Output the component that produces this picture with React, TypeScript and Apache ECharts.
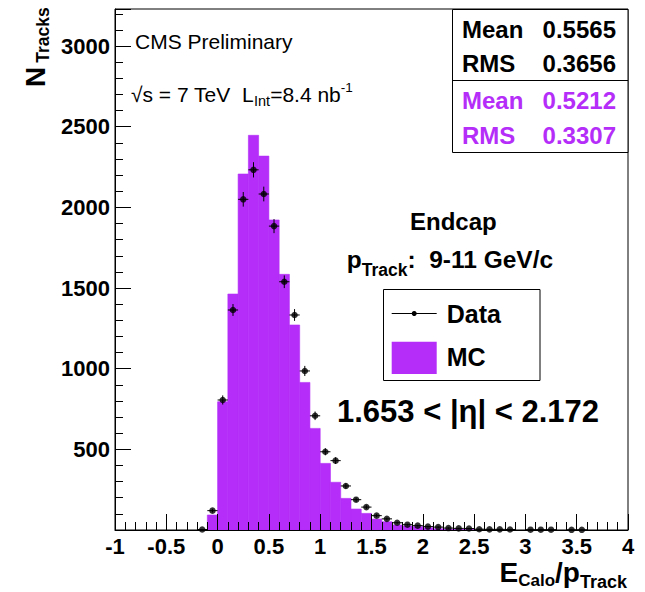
import React, { useEffect, useRef } from 'react';
import * as echarts from 'echarts';

// ---- data ----
const binWidth = 0.1;
const mcBinStart = -0.1;
const mcCounts = [93, 795, 1463, 2207, 2447, 2318, 1922, 1585, 1271, 915, 630, 413, 296, 196, 130, 103, 68, 51, 31, 25, 21, 14, 8, 4, 2, 1];
const dataCenters = [-0.15, -0.05, 0.05, 0.15, 0.25, 0.35, 0.45, 0.55, 0.65, 0.75, 0.85, 0.95, 1.05, 1.15, 1.25, 1.35, 1.45, 1.55, 1.65, 1.75, 1.85, 1.95, 2.05, 2.15, 2.25, 2.35, 2.45, 2.55, 2.65, 2.75, 2.85, 3.05, 3.15, 3.25, 3.45, 3.55];
const dataCounts = [3, 120, 806, 1364, 2050, 2233, 2083, 1884, 1539, 1333, 986, 708, 485, 430, 273, 188, 142, 89, 69, 45, 33, 27, 21, 18, 12, 10, 9, 5, 4, 4, 3, 2, 2, 2, 1, 1];
const xTicks = [-1, -0.5, 0, 0.5, 1, 1.5, 2, 2.5, 3, 3.5, 4];
const yTickLabels = [500, 1000, 1500, 2000, 2500, 3000];
const statsDataRows = [['Mean', '0.5565'], ['RMS', '0.3656']];
const statsMCRows = [['Mean', '0.5212'], ['RMS', '0.3307']];
const xMin = -1, xMax = 4, yMin = 0, yMax = 3230;

const MC_COLOR = '#b42df8';
const FONT = '"Liberation Sans", Arial, Helvetica, sans-serif';

let _ctx: CanvasRenderingContext2D | null = null;
function measure(text: string, size: number, weight: string) {
  if (!_ctx) _ctx = document.createElement('canvas').getContext('2d');
  _ctx!.font = `${weight} ${size}px ${FONT}`;
  return _ctx!.measureText(text).width;
}
function textEl(text: string, x: number, y: number, size: number, weight: string, color: string, align = 'left', lh?: number) {
  return {
    type: 'text', x, y, z: 20,
    style: { text, fill: color, font: `${weight} ${size}px ${FONT}`, lineHeight: lh ?? size, textAlign: align, textVerticalAlign: 'middle', align, verticalAlign: 'middle' },
  };
}
type Part = [string, number, string, number];
function chain(x0: number, y: number, parts: Part[], color = '#000', lhScale = 1) {
  let x = x0;
  const out: any[] = [];
  for (const [t, size, weight, dy] of parts) {
    out.push(textEl(t, x, y + dy, size, weight, color, 'left', size * lhScale));
    x += measure(t, size, weight);
  }
  return out;
}
function chainRight(xr: number, y: number, parts: Part[], color = '#000', lhScale = 1) {
  const total = parts.reduce((s, [t, size, w]) => s + measure(t, size, w), 0);
  return chain(xr - total, y, parts, color, lhScale);
}

export default function App() {
  const ref = useRef<HTMLDivElement>(null);
  useEffect(() => {
    const chart = echarts.init(ref.current!, null, { renderer: 'svg' });

    const mcData = mcCounts.map((v, i) => [mcBinStart + i * binWidth, v]);
    const pts = dataCenters.map((c, i) => [c, dataCounts[i]]);

    const statsEls: any[] = [];
    const rowsY = [29, 63.5, 100, 135];
    [...statsDataRows, ...statsMCRows].forEach((r, i) => {
      const col = i < 2 ? '#000' : MC_COLOR;
      statsEls.push(textEl(r[0], 462, rowsY[i], 24, 'bold', col));
      statsEls.push(textEl(r[1], 616, rowsY[i], 24, 'bold', col, 'right'));
    });

    const nW = measure('N', 28, 'bold');

    const option: any = {
      animation: false,
      backgroundColor: '#fff',
      grid: { left: 115, right: 17, top: 9, bottom: 62, show: true, borderColor: '#000', borderWidth: 1, backgroundColor: 'transparent' },
      xAxis: {
        type: 'value', min: xMin, max: xMax, interval: 0.5, z: 5,
        axisLine: { show: true, onZero: false, lineStyle: { color: '#000', width: 1 } },
        axisTick: { show: true, inside: true, length: 16, lineStyle: { color: '#000', width: 1 } },
        minorTick: { show: true, splitNumber: 5, length: 8, lineStyle: { color: '#000', width: 1 } },
        splitLine: { show: false },
        axisLabel: {
          color: '#000', fontSize: 22, fontWeight: 'bold', fontFamily: FONT, margin: 6, lineHeight: 20,
          formatter: (v: number) => {
            const t = xTicks.find((k) => Math.abs(k - v) < 1e-6);
            return t === undefined ? '' : String(t);
          },
        },
      },
      yAxis: [
        {
          type: 'value', min: yMin, max: yMax, interval: 500, z: 5, position: 'left',
          axisLine: { show: true, onZero: false, lineStyle: { color: '#000', width: 1 } },
          axisTick: { show: true, inside: true, length: 16, lineStyle: { color: '#000', width: 1 } },
          splitLine: { show: false },
          axisLabel: {
            color: '#000', fontSize: 22, fontWeight: 'bold', fontFamily: FONT, margin: 5,
            formatter: (v: number) => (yTickLabels.indexOf(Math.round(v)) >= 0 ? String(Math.round(v)) : ''),
          },
        },
        {
          type: 'value', min: yMin, max: yMax, interval: 100, z: 5, position: 'left',
          axisLine: { show: false, onZero: false },
          axisTick: { show: true, inside: true, length: 8, lineStyle: { color: '#000', width: 1 } },
          splitLine: { show: false },
          axisLabel: { show: false },
        },
      ],
      series: [
        {
          type: 'custom', name: 'MC', z: 2, yAxisIndex: 0,
          data: mcData,
          encode: { x: 0, y: 1 },
          renderItem: (params: any, api: any) => {
            const x0 = api.value(0);
            const v = api.value(1);
            const p0 = api.coord([x0, 0]);
            const p1 = api.coord([x0 + binWidth, v]);
            return {
              type: 'rect',
              shape: { x: p0[0], y: p1[1], width: p1[0] - p0[0], height: p0[1] - p1[1] },
              style: { fill: MC_COLOR, stroke: MC_COLOR, lineWidth: 0.6 },
            };
          },
        },
        {
          type: 'custom', name: 'DataErr', z: 8, yAxisIndex: 0,
          data: pts,
          encode: { x: 0, y: 1 },
          renderItem: (params: any, api: any) => {
            const x = api.value(0);
            const y = api.value(1);
            const e = Math.sqrt(y);
            const pl = api.coord([x - binWidth / 2, y]);
            const pr = api.coord([x + binWidth / 2, y]);
            const pt = api.coord([x, y + e]);
            const pb = api.coord([x, Math.max(0, y - e)]);
            return {
              type: 'group',
              children: [
                { type: 'line', shape: { x1: pl[0], y1: pl[1], x2: pr[0], y2: pr[1] }, style: { stroke: '#000', lineWidth: 1 } },
                { type: 'line', shape: { x1: pt[0], y1: pt[1], x2: pb[0], y2: pb[1] }, style: { stroke: '#000', lineWidth: 1 } },
              ],
            };
          },
        },
        {
          type: 'scatter', name: 'Data', z: 9, yAxisIndex: 0,
          data: pts, symbol: 'circle', symbolSize: 6.5,
          itemStyle: { color: '#000' },
        },
      ],
      graphic: {
        elements: [
          // stats box
          { type: 'rect', z: 15, shape: { x: 452.5, y: 9.5, width: 175.5, height: 143 }, style: { fill: '#fff', stroke: '#000', lineWidth: 1 } },
          { type: 'line', z: 16, shape: { x1: 452.5, y1: 80.5, x2: 628, y2: 80.5 }, style: { stroke: '#000', lineWidth: 1 } },
          ...statsEls,
          // header texts
          textEl('CMS Preliminary', 135, 41, 21, 'normal', '#000'),
          ...chain(131, 94, [
            ['√s = 7 TeV  L', 21, 'normal', 0],
            ['Int', 14.5, 'normal', 7],
            ['=8.4 nb', 21, 'normal', 0],
            ['-1', 13.5, 'normal', -7],
          ]),
          textEl('Endcap', 410, 221.5, 24, 'bold', '#000'),
          ...chain(346.7, 259, [
            ['p', 24.5, 'bold', 0],
            ['Track', 17.5, 'bold', 11],
            [':  9-11 GeV/c', 24.5, 'bold', 0],
          ]),
          // legend
          { type: 'rect', z: 15, shape: { x: 383.5, y: 289.5, width: 156.5, height: 91 }, style: { fill: '#fff', stroke: '#000', lineWidth: 1 } },
          { type: 'line', z: 16, shape: { x1: 391.7, y1: 313.5, x2: 436.7, y2: 313.5 }, style: { stroke: '#000', lineWidth: 1 } },
          { type: 'circle', z: 16, shape: { cx: 414.2, cy: 313.5, r: 2.5 }, style: { fill: '#000' } },
          { type: 'rect', z: 16, shape: { x: 391.7, y: 341.7, width: 45, height: 32.3 }, style: { fill: MC_COLOR } },
          textEl('Data', 446.7, 313.5, 25, 'bold', '#000'),
          textEl('MC', 446.7, 357, 25, 'bold', '#000'),
          textEl('1.653 < |η| < 2.172', 337, 411, 31, 'bold', '#000'),
          // x-axis title
          ...chainRight(627, 572, [
            ['E', 28, 'bold', 0],
            ['Calo', 17, 'bold', 8],
            ['/', 28, 'bold', 0],
            ['p', 28, 'bold', 0],
            ['Track', 18, 'bold', 10],
          ], '#000', 0.75),
          // y-axis title (rotated)
          {
            type: 'group', x: 35.5, y: 87, rotation: Math.PI / 2, z: 20,
            children: [
              { type: 'text', x: 0, y: 0, style: { text: 'N', fill: '#000', font: `bold 28px ${FONT}`, lineHeight: 28, textAlign: 'left', textVerticalAlign: 'middle', align: 'left', verticalAlign: 'middle' } },
              { type: 'text', x: nW + 4, y: 7.5, style: { text: 'Tracks', fill: '#000', font: `bold 17.5px ${FONT}`, lineHeight: 17.5, textAlign: 'left', textVerticalAlign: 'middle', align: 'left', verticalAlign: 'middle' } },
            ],
          },
        ],
      },
    };
    chart.setOption(option);
    return () => chart.dispose();
  }, []);
  return <div ref={ref} style={{ position: 'absolute', left: 0, top: 0, width: 645, height: 592, background: '#fff' }} />;
}
